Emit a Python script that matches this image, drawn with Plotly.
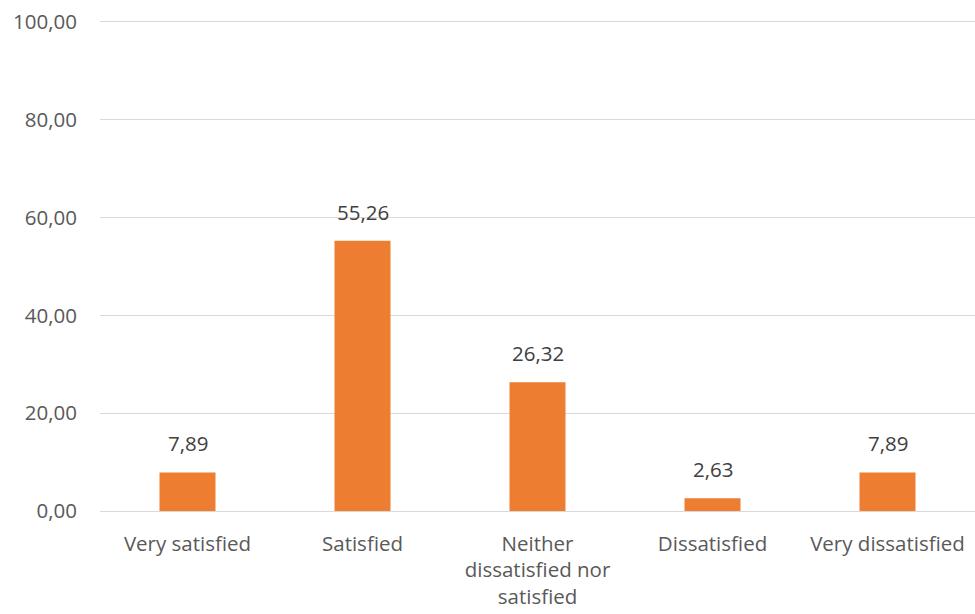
import plotly.graph_objects as go

categories = ["Very satisfied", "Satisfied", "Neither<br>dissatisfied nor<br>satisfied",
              "Dissatisfied", "Very dissatisfied"]
values = [7.89, 55.26, 26.32, 2.63, 7.89]
y_ticks = [0, 20, 40, 60, 80, 100]

FONT = "Open Sans"
TXT = "#595959"
FS = 20.5

fig = go.Figure()
fig.add_trace(go.Bar(
    x=categories, y=values,
    marker=dict(color="#ED7D31", line=dict(width=0)),
    width=0.32,
    hoverinfo="skip",
))

for c, v in zip(categories, values):
    fig.add_annotation(
        x=c, y=v, text=f"{v:.2f}".replace(".", ","),
        showarrow=False, yanchor="bottom", yshift=13,
        font=dict(family=FONT, size=FS, color="#404040"),
    )

fig.update_layout(
    width=975, height=614,
    margin=dict(l=100, r=0, t=20, b=103, autoexpand=False),
    paper_bgcolor="white", plot_bgcolor="white",
    separators=", ",
    showlegend=False,
    font=dict(family=FONT, size=FS, color=TXT),
)
fig.update_yaxes(
    range=[0, 100.4], tickvals=y_ticks, tickformat=".2f",
    showgrid=True, gridcolor="#d9d9d9", gridwidth=1,
    zeroline=True, zerolinecolor="#d9d9d9", zerolinewidth=1,
    showline=False, ticks="", ticklabelstandoff=22, automargin=False,
    tickfont=dict(family=FONT, size=FS, color=TXT),
)
fig.update_xaxes(
    showgrid=False, showline=False, ticks="", automargin=False,
    ticklabelstandoff=18,
    tickfont=dict(family=FONT, size=FS, color=TXT),
)

fig.write_html(
    "out.html",
    config={"displayModeBar": False},
    post_script="document.body.style.margin='0';document.body.style.overflow='hidden';",
)
